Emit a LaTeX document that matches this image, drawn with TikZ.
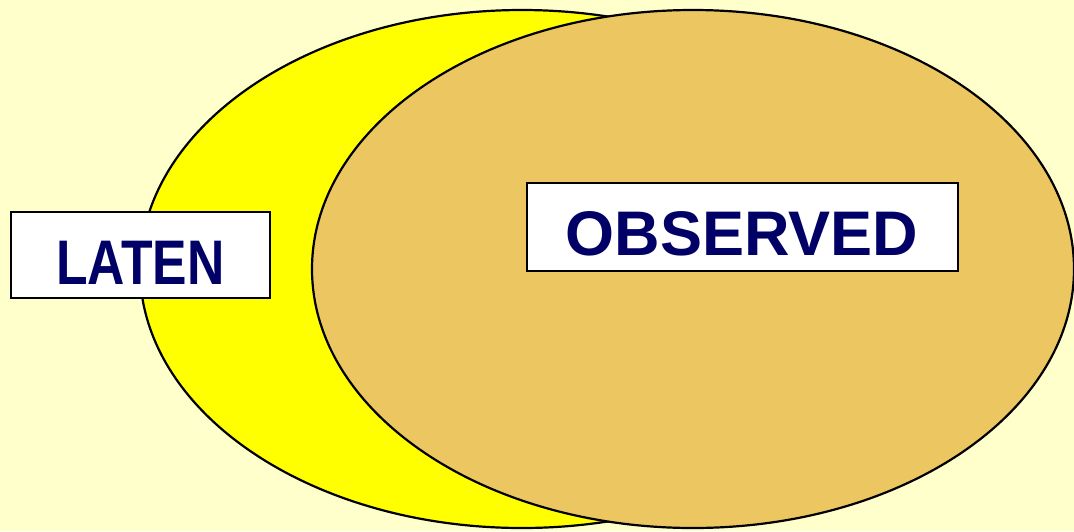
\documentclass[tikz,border=0pt]{standalone}
\usepackage{fontspec}
\setmainfont{Liberation Sans}
\newfontfamily\narrowfont[FakeStretch=0.82]{Liberation Sans}
\definecolor{bgc}{RGB}{255,255,204}
\definecolor{tanc}{RGB}{236,198,96}
\definecolor{yelc}{RGB}{255,255,0}
\definecolor{navy}{RGB}{0,0,102}
\begin{document}
\begin{tikzpicture}[x=1pt,y=-1pt,
  blob/.style={draw=black,line width=2.2pt},
  labelbox/.style={draw=black,line width=1.8pt,fill=white},
  labeltext/.style={text=navy,font=\fontsize{63}{63}\selectfont\bfseries,inner sep=0pt,anchor=base}]
\fill[bgc] (0,0) rectangle (1074,531);
\useasboundingbox (0,0) rectangle (1074,531);
\draw[blob,fill=yelc] (522,269) ellipse [x radius=382,y radius=259];
\draw[blob,fill=tanc] (693,269) ellipse [x radius=381,y radius=259];
\node[labelbox,minimum width=259pt,minimum height=86pt,inner sep=0pt] (latenbox) at (140.5,255) {};
\node[labelbox,minimum width=431pt,minimum height=88pt,inner sep=0pt] (obsbox) at (742.5,227) {};
\node[labeltext,font=\fontsize{63}{63}\selectfont\narrowfont\bfseries] (laten) at (140.5,284) {LATEN};
\node[labeltext] (obs) at (742,255) {OBSERVED};
\end{tikzpicture}
\end{document}
